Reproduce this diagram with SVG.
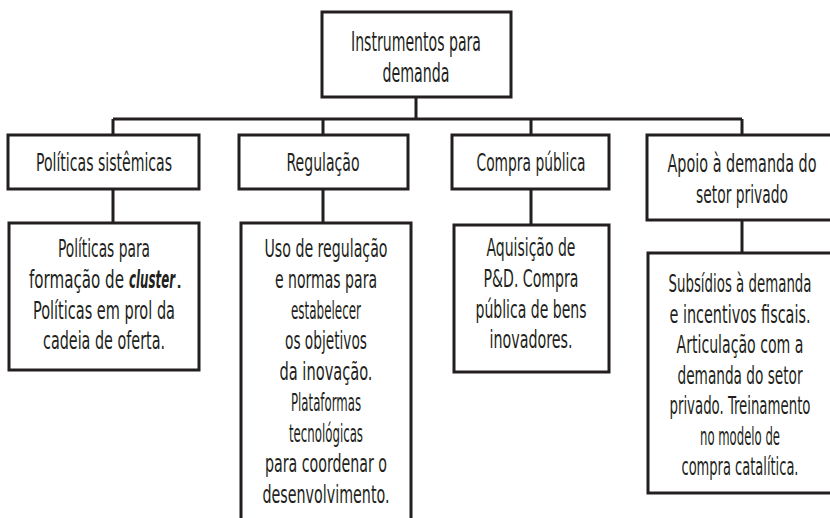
<svg xmlns="http://www.w3.org/2000/svg" width="830" height="518" viewBox="0 0 830 518">
<style>
.box{fill:#fff;stroke:#231f20;stroke-width:3}
.ln{fill:none;stroke:#231f20;stroke-width:3}
text{font-family:"Liberation Sans Narrow","DejaVu Sans Condensed","Liberation Sans",sans-serif;font-size:25px;fill:#231f20;text-anchor:middle}
.big{font-size:26px}
.st{text-anchor:start}
.em{font-style:italic;font-weight:bold}
</style>
<rect width="830" height="518" fill="#fff"/>
<g id="connectors">
<path class="ln" d="M416,97V119M113,119H742M113,119V135M323,119V135M531,119V135M742,119V135"/>
<path class="ln" d="M113,189V223M323,189V223M531,189V225M742,220V253"/>
</g>
<g id="root">
<rect class="box" x="322" y="12" width="189" height="85"/>
<text class="big" x="416" y="51" textLength="130" lengthAdjust="spacingAndGlyphs">Instrumentos para</text>
<text class="big" x="416" y="82" textLength="67" lengthAdjust="spacingAndGlyphs">demanda</text>
</g>
<g id="politicas">
<rect class="box" x="8" y="135" width="191" height="54"/>
<text x="104" y="171" textLength="136" lengthAdjust="spacingAndGlyphs">Políticas sistêmicas</text>
</g>
<g id="regulacao">
<rect class="box" x="239" y="135" width="169" height="54"/>
<text x="323" y="171" textLength="73" lengthAdjust="spacingAndGlyphs">Regulação</text>
</g>
<g id="compra">
<rect class="box" x="452" y="135" width="157" height="54"/>
<text x="531" y="171" textLength="109" lengthAdjust="spacingAndGlyphs">Compra pública</text>
</g>
<g id="apoio">
<rect class="box" x="647" y="135" width="190" height="85"/>
<text x="742" y="172" textLength="149" lengthAdjust="spacingAndGlyphs">Apoio à demanda do</text>
<text x="742" y="203" textLength="92" lengthAdjust="spacingAndGlyphs">setor privado</text>
</g>
<g id="politicas-det">
<rect class="box" x="9" y="223" width="190" height="147"/>
<text x="104" y="257" textLength="92" lengthAdjust="spacingAndGlyphs">Políticas para</text>
<text class="st" x="29" y="288" textLength="95" lengthAdjust="spacingAndGlyphs">formação de</text>
<text class="st em" x="129" y="288" textLength="46" lengthAdjust="spacingAndGlyphs">cluster</text>
<text class="st" x="175.5" y="288">.</text>
<text x="104" y="318.5" textLength="142" lengthAdjust="spacingAndGlyphs">Políticas em prol da</text>
<text x="104" y="349" textLength="122" lengthAdjust="spacingAndGlyphs">cadeia de oferta.</text>
</g>
<g id="regulacao-det">
<rect class="box" x="241" y="223" width="170" height="310"/>
<text x="326" y="257" textLength="123" lengthAdjust="spacingAndGlyphs">Uso de regulação</text>
<text x="326" y="287.75" textLength="102" lengthAdjust="spacingAndGlyphs">e normas para</text>
<text x="326" y="318.5" textLength="70" lengthAdjust="spacingAndGlyphs">estabelecer</text>
<text x="326" y="349.25" textLength="82" lengthAdjust="spacingAndGlyphs">os objetivos</text>
<text x="326" y="380" textLength="93" lengthAdjust="spacingAndGlyphs">da inovação.</text>
<text x="326" y="410.75" textLength="70" lengthAdjust="spacingAndGlyphs">Plataformas</text>
<text x="326" y="441.5" textLength="74" lengthAdjust="spacingAndGlyphs">tecnológicas</text>
<text x="326" y="472.25" textLength="122" lengthAdjust="spacingAndGlyphs">para coordenar o</text>
<text x="326" y="503" textLength="127" lengthAdjust="spacingAndGlyphs">desenvolvimento.</text>
</g>
<g id="compra-det">
<rect class="box" x="454" y="225" width="155" height="147"/>
<text x="531" y="256" textLength="89" lengthAdjust="spacingAndGlyphs">Aquisição de</text>
<text x="531" y="287" textLength="95" lengthAdjust="spacingAndGlyphs">P&amp;D. Compra</text>
<text x="531" y="317.5" textLength="111" lengthAdjust="spacingAndGlyphs">pública de bens</text>
<text x="531" y="348" textLength="83" lengthAdjust="spacingAndGlyphs">inovadores.</text>
</g>
<g id="apoio-det">
<rect class="box" x="648" y="253" width="190" height="240"/>
<text x="740" y="292" textLength="143" lengthAdjust="spacingAndGlyphs">Subsídios à demanda</text>
<text x="740" y="322.5" textLength="141" lengthAdjust="spacingAndGlyphs">e incentivos fiscais.</text>
<text x="740" y="353" textLength="127" lengthAdjust="spacingAndGlyphs">Articulação com a</text>
<text x="740" y="383.5" textLength="125" lengthAdjust="spacingAndGlyphs">demanda do setor</text>
<text x="740" y="414" textLength="141" lengthAdjust="spacingAndGlyphs">privado. Treinamento</text>
<text x="740" y="444.5" textLength="80" lengthAdjust="spacingAndGlyphs">no modelo de</text>
<text x="740" y="475" textLength="117" lengthAdjust="spacingAndGlyphs">compra catalítica.</text>
</g>
</svg>
